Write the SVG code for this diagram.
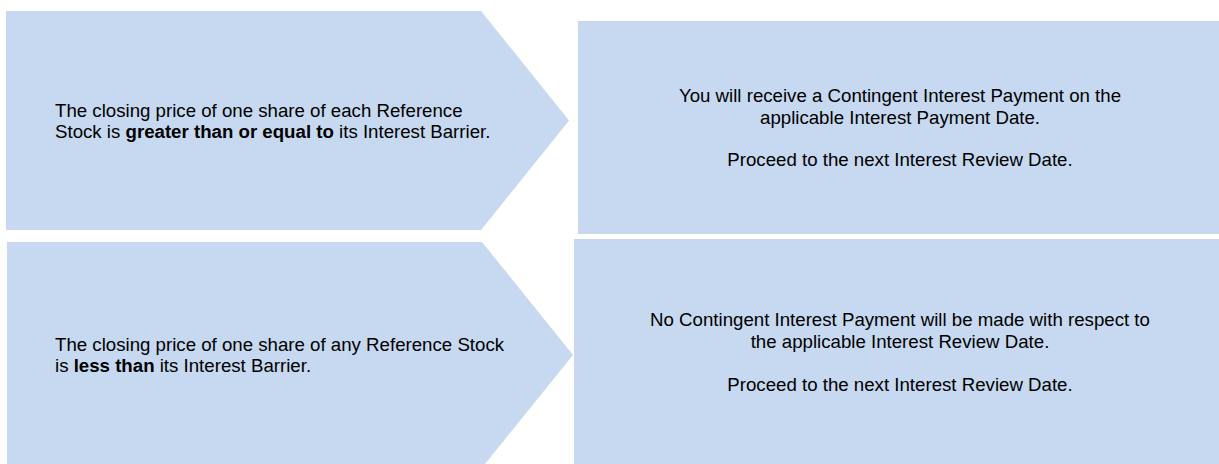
<svg xmlns="http://www.w3.org/2000/svg" width="1219" height="464" viewBox="0 0 1219 464">
<style>
.shape{fill:#C6D9F0;stroke:none}
.t{font-family:"Liberation Sans",Arial,sans-serif;font-size:18.67px;fill:#000}
.c{text-anchor:middle}
.b{font-weight:bold}
</style>
<rect width="1219" height="464" fill="#fff"/>
<g id="cond-above">
<polygon class="shape" points="6,11 481,11 569,120.5 481,230 6,230"/>
<text class="t" x="55" y="116.5">The closing price of one share of each Reference</text>
<text class="t" x="55" y="138">Stock is <tspan class="b">greater than or equal to</tspan> its Interest Barrier.</text>
</g>
<g id="result-above">
<rect class="shape" x="578" y="21" width="641" height="213"/>
<text class="t c" x="900" y="102">You will receive a Contingent Interest Payment on the</text>
<text class="t c" x="900" y="123.5">applicable Interest Payment Date.</text>
<text class="t c" x="900" y="166">Proceed to the next Interest Review Date.</text>
</g>
<g id="cond-below">
<polygon class="shape" points="7,242 482,242 573,355 485,464 7,464"/>
<text class="t" x="55" y="350.7">The closing price of one share of any Reference Stock</text>
<text class="t" x="55" y="372.2"><tspan>is </tspan><tspan class="b">less than</tspan> its Interest Barrier.</text>
</g>
<g id="result-below">
<rect class="shape" x="574" y="239" width="645" height="225"/>
<text class="t c" x="900" y="326">No Contingent Interest Payment will be made with respect to</text>
<text class="t c" x="900" y="347.5">the applicable Interest Review Date.</text>
<text class="t c" x="900" y="390.5">Proceed to the next Interest Review Date.</text>
</g>
<g id="connectors"></g>
</svg>
